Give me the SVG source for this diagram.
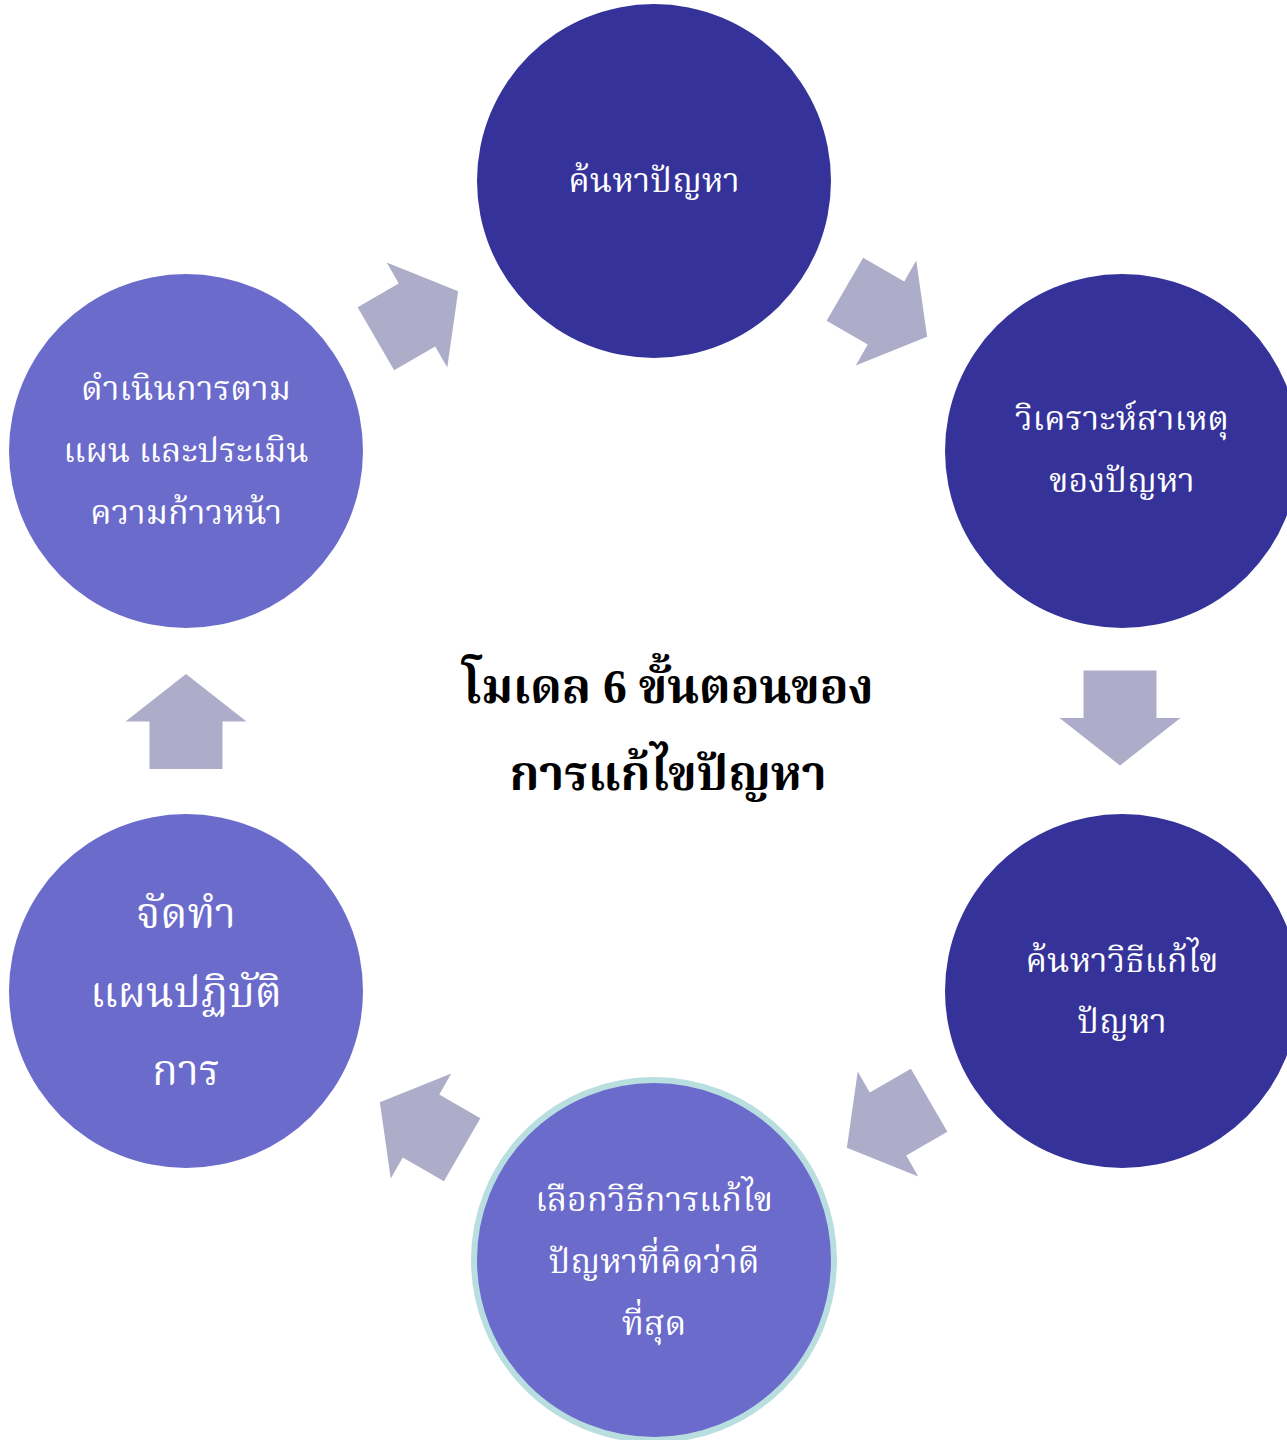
<svg xmlns="http://www.w3.org/2000/svg" width="1287" height="1440" viewBox="0 0 1287 1440">
<defs>
<style>
.dark{fill:#353399}
.light{fill:#6B6BCC}
.arrow{fill:#ADADC9}
.t{fill:#ffffff;font-family:"Liberation Serif","Noto Serif Thai","Noto Sans Thai",serif;font-size:34px;text-anchor:middle}
.big{font-size:42.5px}
.title{fill:#000000;font-family:"Liberation Serif","Noto Serif Thai","Noto Sans Thai",serif;font-size:47.5px;font-weight:bold;text-anchor:middle}
</style>
<path id="arr" d="M-47.5,-36.5 L0,-36.5 L0,-60.5 L47.5,0 L0,60.5 L0,36.5 L-47.5,36.5 Z"/>
</defs>
<rect width="1287" height="1440" fill="#ffffff"/>
<g id="connectors" class="arrow">
<use href="#arr" transform="translate(886,313) rotate(30)"/>
<use href="#arr" transform="translate(1120,718) rotate(90)"/>
<use href="#arr" transform="translate(888,1124) rotate(150)"/>
<use href="#arr" transform="translate(421,1126) rotate(210)"/>
<use href="#arr" transform="translate(186,721.5) rotate(-90)"/>
<use href="#arr" transform="translate(417,315) rotate(-30)"/>
</g>
<g id="node1">
<circle class="dark" cx="654" cy="181" r="177"/>
<text class="t" x="654" y="192">ค้นหาปัญหา</text>
</g>
<g id="node2">
<circle class="dark" cx="1122" cy="451" r="177"/>
<text class="t" x="1122" y="430">วิเคราะห์สาเหตุ</text>
<text class="t" x="1122" y="492">ของปัญหา</text>
</g>
<g id="node3">
<circle class="dark" cx="1122" cy="991" r="177"/>
<text class="t" x="1122" y="972">ค้นหาวิธีแก้ไข</text>
<text class="t" x="1122" y="1033">ปัญหา</text>
</g>
<g id="node4">
<circle class="light" cx="654" cy="1260" r="180" stroke="#B9DEE0" stroke-width="6"/>
<text class="t" x="654" y="1211">เลือกวิธีการแก้ไข</text>
<text class="t" x="654" y="1273">ปัญหาที่คิดว่าดี</text>
<text class="t" x="654" y="1335">ที่สุด</text>
</g>
<g id="node5">
<circle class="light" cx="186" cy="991" r="177"/>
<text class="t big" x="186" y="928">จัดทำ</text>
<text class="t big" x="186" y="1007">แผนปฏิบัติ</text>
<text class="t big" x="186" y="1085">การ</text>
</g>
<g id="node6">
<circle class="light" cx="186" cy="451" r="177"/>
<text class="t" x="186" y="400">ดำเนินการตาม</text>
<text class="t" x="186" y="462">แผน และประเมิน</text>
<text class="t" x="186" y="524">ความก้าวหน้า</text>
</g>
<g id="title">
<text class="title" x="668" y="703">โมเดล 6 ขั้นตอนของ</text>
<text class="title" x="668" y="790">การแก้ไขปัญหา</text>
</g>
</svg>
